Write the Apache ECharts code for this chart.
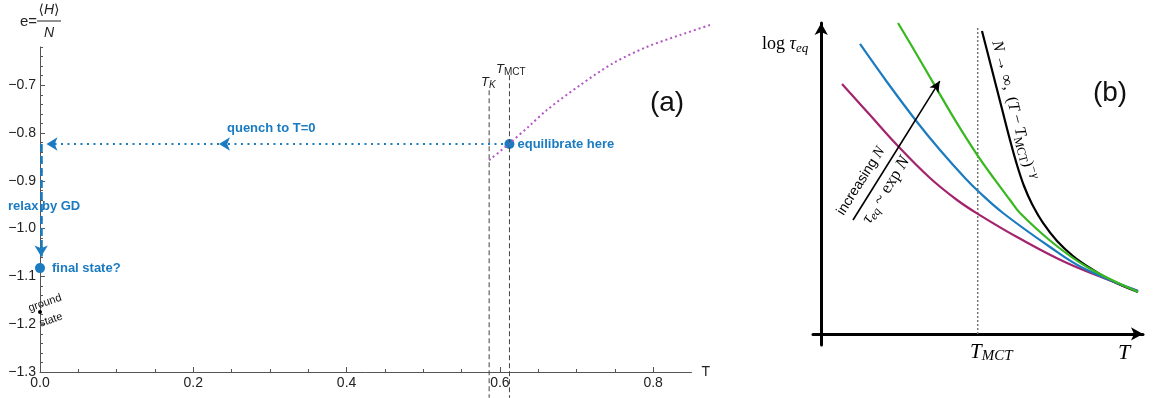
<!DOCTYPE html>
<html>
<head>
<meta charset="utf-8">
<script src="https://cdn.jsdelivr.net/npm/echarts@6/dist/echarts.min.js"></script>
<style>
  html, body { margin: 0; padding: 0; background: #fff; }
  #chart { width: 1160px; height: 398px; }
</style>
</head>
<body>
<div id="chart"></div>
<script>
// ---------- panel (a): energy per particle e = <H>/N versus temperature T ----------
const tMajorTicks = [0, 0.2, 0.4, 0.6, 0.8];
const tMinorTicks = [0.05, 0.1, 0.15, 0.25, 0.3, 0.35, 0.45, 0.5, 0.55, 0.65, 0.7, 0.75];
const eMajorTicks = [-1.3, -1.2, -1.1, -1.0, -0.9, -0.8, -0.7];
const eMinorTicks = [-1.28, -1.26, -1.24, -1.22, -1.18, -1.16, -1.14, -1.12,
                     -1.08, -1.06, -1.04, -1.02, -0.98, -0.96, -0.94, -0.92,
                     -0.88, -0.86, -0.84, -0.82, -0.78, -0.76, -0.74, -0.72,
                     -0.68, -0.66, -0.64, -0.62];

// equilibrium energy above the Kauzmann temperature
const eqCurveT = [0.586, 0.6123, 0.6393, 0.6611, 0.7045, 0.7476, 0.7915, 0.835, 0.8741];
const eqCurveE = [-0.857, -0.822, -0.784, -0.752, -0.700, -0.654, -0.620, -0.595, -0.574];

// characteristic temperatures and the extent of their marker lines
const T_K = 0.586;
const T_MCT = 0.6125;
const markerLow = -1.354;
const markerTopK = -0.7105;
const markerTopMCT = -0.679;

// protocol: equilibrate at T_MCT, quench to T = 0, relax by gradient descent
const equilibratePoint = [0.6125, -0.823];
const quenchMidArrowT = 0.2335;
const quenchEndT = 0.0085;
const relaxT = 0.0015;
const relaxArrowE = -1.0585;
const finalStatePoint = [0, -1.0826];
const groundStatePoint = [0, -1.1746];

// ---------- panel (b): schematic log tau_eq versus T ----------
const bTmct = 4.76;
const bTmctTop = 9.653;
const curveInfT = [4.890, 5.195, 5.499, 5.742, 5.955, 6.168, 6.411, 6.746, 7.172, 7.658, 8.175, 8.844, 9.635];
const curveInfL = [9.558, 8.328, 7.097, 6.119, 5.330, 4.667, 4.099, 3.500, 2.932, 2.458, 2.080, 1.669, 1.322];
const curveSmallT = [0.633, 1.484, 2.305, 3.309, 4.130, 4.769, 5.955, 7.476, 8.997, 9.635];
const curveSmallL = [7.886, 6.907, 5.961, 4.919, 4.225, 3.784, 3.058, 2.237, 1.606, 1.354];
const curveMidT = [1.180, 2.001, 2.914, 3.613, 4.373, 4.769, 5.529, 6.958, 7.962, 9.635];
const curveMidL = [9.148, 7.949, 6.687, 5.803, 4.920, 4.509, 3.815, 2.742, 2.079, 1.354];
const curveLargeT = [2.336, 2.914, 3.491, 4.100, 4.739, 5.286, 5.742, 6.046, 7.050, 8.084, 9.635];
const curveLargeL = [9.811, 8.801, 7.772, 6.699, 5.658, 4.857, 4.225, 3.815, 2.868, 2.111, 1.322];
const increasingArrowFrom = [0.967, 3.594];
const increasingArrowTo = [3.605, 7.977];

const SANS = '"Liberation Sans", Arial, Helvetica, sans-serif';
const SERIF = '"Liberation Serif", "Times New Roman", Times, serif';
const BLUE = '#1b7bc0';
const AXIS = '#555';
const INK = '#222';

const zip = (xs, ys) => xs.map((x, i) => [x, ys[i]]);
const fmtE = v => (v < 0 ? '\u2212' : '') + Math.abs(v).toFixed(1);

function text(x, y, str, style, rotation) {
  return {
    type: 'text', x: x, y: y, rotation: rotation || 0, silent: true, z: 100,
    style: Object.assign({
      text: str, fill: INK, fontFamily: SANS, fontSize: 13,
      align: 'left', verticalAlign: 'middle',
      textAlign: 'left', textVerticalAlign: 'middle'
    }, style)
  };
}
function centered(style) {
  return Object.assign({ align: 'center', textAlign: 'center' }, style);
}

const chart = echarts.init(document.getElementById('chart'), null, { renderer: 'canvas' });

const arrowLine = (from, to, color, width, type, size) => ({
  silent: true,
  symbol: ['none', 'arrow'],
  symbolSize: size,
  label: { show: false },
  emphasis: { disabled: true },
  lineStyle: { color: color, width: width, type: type, opacity: 1 },
  data: [[{ coord: from }, { coord: to }]]
});

const hiddenAxis = {
  show: false, axisLine: { show: false, onZero: false }, axisTick: { show: false },
  axisLabel: { show: false }, splitLine: { show: false }
};

const option = {
  animation: false,
  backgroundColor: '#fff',
  grid: [
    { left: 40, top: 47, width: 651.5, height: 325, containLabel: false },
    { left: 813, top: 23, width: 330, height: 322, containLabel: false },
    // same scale as the first grid, slightly wider so the curve can run past the axis end
    { left: 40, top: 47, width: 689.8, height: 325, containLabel: false }
  ],
  xAxis: [
    {
      gridIndex: 0, type: 'value', min: 0, max: 0.85, position: 'bottom',
      axisLine: { onZero: false, lineStyle: { color: AXIS, width: 1 } },
      axisTick: { inside: true, length: 5, customValues: tMajorTicks, lineStyle: { color: AXIS } },
      axisLabel: { customValues: tMajorTicks, formatter: v => v.toFixed(1), fontSize: 14,
                   fontFamily: SANS, color: INK, margin: 4 },
      splitLine: { show: false },
      name: 'T', nameLocation: 'end', nameGap: 10,
      nameTextStyle: { fontSize: 14, fontFamily: SANS, color: INK }
    },
    {
      gridIndex: 0, type: 'value', min: 0, max: 0.85, position: 'bottom',
      axisLine: { show: false, onZero: false },
      axisTick: { inside: true, length: 3, customValues: tMinorTicks, lineStyle: { color: AXIS } },
      axisLabel: { show: false }, splitLine: { show: false }
    },
    {
      gridIndex: 1, type: 'value', min: -0.25, max: 9.787,
      axisLine: { onZero: true, symbol: ['none', 'arrow'], symbolSize: [10, 12],
                  lineStyle: { color: '#000', width: 3 } },
      axisTick: { show: false }, axisLabel: { show: false }, splitLine: { show: false }
    },
    Object.assign({ gridIndex: 2, type: 'value', min: 0, max: 0.9 }, hiddenAxis)
  ],
  yAxis: [
    {
      gridIndex: 0, type: 'value', min: -1.3, max: -0.62, position: 'left',
      axisLine: { onZero: false, lineStyle: { color: AXIS, width: 1 } },
      axisTick: { inside: true, length: 5, customValues: eMajorTicks, lineStyle: { color: AXIS } },
      axisLabel: { customValues: eMajorTicks, formatter: fmtE, fontSize: 14,
                   fontFamily: SANS, color: INK, margin: 4 },
      splitLine: { show: false }
    },
    {
      gridIndex: 0, type: 'value', min: -1.3, max: -0.62, position: 'left',
      axisLine: { show: false, onZero: false },
      axisTick: { inside: true, length: 3, customValues: eMinorTicks, lineStyle: { color: AXIS } },
      axisLabel: { show: false }, splitLine: { show: false }
    },
    {
      gridIndex: 1, type: 'value', min: -0.35, max: 9.81,
      axisLine: { onZero: true, symbol: ['none', 'arrow'], symbolSize: [10, 12],
                  lineStyle: { color: '#000', width: 3 } },
      axisTick: { show: false }, axisLabel: { show: false }, splitLine: { show: false }
    },
    Object.assign({ gridIndex: 2, type: 'value', min: -1.3, max: -0.62 }, hiddenAxis)
  ],
  series: [
    // ---- panel (a) ----
    {
      type: 'line', xAxisIndex: 0, yAxisIndex: 0, clip: false, silent: true,
      data: [[T_K, markerTopK], [T_K, markerLow]], symbol: 'none',
      lineStyle: { color: '#444', width: 1, type: [5, 3] }
    },
    {
      type: 'line', xAxisIndex: 0, yAxisIndex: 0, clip: false, silent: true,
      data: [[T_MCT, markerTopMCT], [T_MCT, markerLow]], symbol: 'none',
      lineStyle: { color: '#444', width: 1, type: [5, 3] }
    },
    {
      type: 'line', xAxisIndex: 3, yAxisIndex: 3, clip: false, silent: true,
      data: zip(eqCurveT, eqCurveE), smooth: 0.3, symbol: 'none',
      lineStyle: { color: '#b355c6', width: 2, type: [2, 3] }
    },
    {
      type: 'line', xAxisIndex: 0, yAxisIndex: 0, clip: false, data: [],
      markLine: arrowLine(equilibratePoint, [quenchMidArrowT, equilibratePoint[1]], BLUE, 2, [2, 4.5], [10, 11])
    },
    {
      type: 'line', xAxisIndex: 0, yAxisIndex: 0, clip: false, data: [],
      markLine: arrowLine([quenchMidArrowT, equilibratePoint[1]], [quenchEndT, equilibratePoint[1]], BLUE, 2, [2, 4.5], [10, 11])
    },
    {
      type: 'line', xAxisIndex: 0, yAxisIndex: 0, clip: false, data: [],
      markLine: arrowLine([relaxT, equilibratePoint[1]], [relaxT, relaxArrowE], BLUE, 2.5, [8, 4], [10, 11])
    },
    {
      type: 'scatter', xAxisIndex: 0, yAxisIndex: 0, clip: false, silent: true,
      symbol: 'circle', symbolSize: 4, itemStyle: { color: '#000', opacity: 1 },
      data: [groundStatePoint]
    },
    {
      type: 'scatter', xAxisIndex: 0, yAxisIndex: 0, clip: false, silent: true,
      symbol: 'circle', symbolSize: 10, itemStyle: { color: BLUE, opacity: 1 },
      label: { show: true, position: 'right', color: BLUE, fontWeight: 'bold',
               fontSize: 13, fontFamily: SANS, opacity: 1 },
      data: [
        { value: equilibratePoint, label: { formatter: 'equilibrate here', distance: 3 } },
        { value: finalStatePoint, label: { formatter: 'final state?', distance: 7 } }
      ]
    },
    // ---- panel (b) ----
    {
      type: 'line', xAxisIndex: 2, yAxisIndex: 2, clip: false, silent: true,
      data: [[bTmct, 0], [bTmct, bTmctTop]], symbol: 'none',
      lineStyle: { color: '#777', width: 1.5, type: [2, 2] }
    },
    {
      type: 'line', xAxisIndex: 2, yAxisIndex: 2, clip: false, silent: true,
      data: zip(curveInfT, curveInfL), smooth: 0.35, symbol: 'none',
      lineStyle: { color: '#000', width: 2.2 }
    },
    {
      type: 'line', xAxisIndex: 2, yAxisIndex: 2, clip: false, silent: true,
      data: zip(curveSmallT, curveSmallL), smooth: 0.4, symbol: 'none',
      lineStyle: { color: '#a3236c', width: 2.2 }
    },
    {
      type: 'line', xAxisIndex: 2, yAxisIndex: 2, clip: false, silent: true,
      data: zip(curveMidT, curveMidL), smooth: 0.4, symbol: 'none',
      lineStyle: { color: BLUE, width: 2.2 }
    },
    {
      type: 'line', xAxisIndex: 2, yAxisIndex: 2, clip: false, silent: true,
      data: zip(curveLargeT, curveLargeL), smooth: 0.4, symbol: 'none',
      lineStyle: { color: '#38b81e', width: 2.2 }
    },
    {
      type: 'line', xAxisIndex: 2, yAxisIndex: 2, clip: false, data: [],
      markLine: arrowLine(increasingArrowFrom, increasingArrowTo, '#000', 1.6, 'solid', [8, 11])
    }
  ],
  graphic: [
    // y-axis title of panel (a): e = <H>/N
    text(37, 22, 'e=', { fontSize: 15, align: 'right', textAlign: 'right' }),
    text(49, 10, '{n|\u27E8}{it|H}{n|\u27E9}', centered({
      rich: {
        n: { fontSize: 14, fontFamily: '"DejaVu Sans", ' + SANS, fill: INK, color: INK },
        it: { fontSize: 14, fontFamily: SANS, fontStyle: 'italic', fill: INK, color: INK }
      }
    })),
    { type: 'line', silent: true, z: 100, shape: { x1: 37, y1: 21, x2: 61, y2: 21 },
      style: { stroke: INK, lineWidth: 1 } },
    text(49, 33, 'N', centered({ fontSize: 14, fontStyle: 'italic' })),

    // protocol labels
    text(227, 128, 'quench to T=0', { fontSize: 13, fontWeight: 'bold', fill: BLUE }),
    text(8, 206, 'relax by GD', { fontSize: 13, fontWeight: 'bold', fill: BLUE }),
    text(45, 303, 'ground', centered({ fontSize: 11, fill: '#111' }), 0.33),
    text(51, 320, 'state', centered({ fontSize: 11, fill: '#111' }), 0.33),

    // temperature markers
    text(481, 82, '{t|T}{s|K}', {
      rich: {
        t: { fontSize: 13, fontFamily: SANS, fontStyle: 'italic', fill: INK, color: INK, lineHeight: 16 },
        s: { fontSize: 10, fontFamily: SANS, fontStyle: 'italic', fill: INK, color: INK, lineHeight: 10, verticalAlign: 'bottom' }
      }
    }),
    text(496, 69, '{t|T}{s|MCT}', {
      rich: {
        t: { fontSize: 13, fontFamily: SANS, fontStyle: 'italic', fill: INK, color: INK, lineHeight: 16 },
        s: { fontSize: 10, fontFamily: SANS, fill: INK, color: INK, lineHeight: 12, verticalAlign: 'bottom' }
      }
    }),
    text(667, 103, '(a)', centered({ fontSize: 28, fill: '#111' })),

    // panel (b) labels
    text(762, 44, '{r|log }{it|\u03C4}{sub|eq}', {
      rich: {
        r: { fontSize: 18, fontFamily: SERIF, fill: '#000', color: '#000', lineHeight: 22 },
        it: { fontSize: 18, fontFamily: SERIF, fontStyle: 'italic', fill: '#000', color: '#000', lineHeight: 22 },
        sub: { fontSize: 13, fontFamily: SERIF, fontStyle: 'italic', fill: '#000', color: '#000', lineHeight: 12, verticalAlign: 'bottom' }
      }
    }),
    text(970, 352, '{it|T}{sub|MCT}', {
      rich: {
        it: { fontSize: 21, fontFamily: SERIF, fontStyle: 'italic', fill: '#000', color: '#000', lineHeight: 24 },
        sub: { fontSize: 15, fontFamily: SERIF, fontStyle: 'italic', fill: '#000', color: '#000', lineHeight: 16, verticalAlign: 'bottom' }
      }
    }),
    text(1118, 353, 'T', { fontSize: 22, fontFamily: SERIF, fontStyle: 'italic', fill: '#000' }),
    text(1110, 93, '(b)', centered({ fontSize: 28, fill: '#111' })),
    text(1014, 110, '{it|N}{r| \u2192 \u221E,  (}{it|T}{r| \u2212 }{it|T}{sub|MCT}{r|)}{sup|\u2212\u03B3}', centered({
      rich: {
        r: { fontSize: 16, fontFamily: SERIF, fill: '#000', color: '#000', lineHeight: 20 },
        it: { fontSize: 16, fontFamily: SERIF, fontStyle: 'italic', fill: '#000', color: '#000', lineHeight: 20 },
        sub: { fontSize: 12, fontFamily: SERIF, fill: '#000', color: '#000', lineHeight: 12, verticalAlign: 'bottom' },
        sup: { fontSize: 12, fontFamily: SERIF, fontStyle: 'italic', fill: '#000', color: '#000', lineHeight: 12, verticalAlign: 'top' }
      }
    }), -1.32),
    text(861, 181, '{s|increasing }{it|N}', centered({
      rich: {
        s: { fontSize: 14, fontFamily: SANS, fill: '#000', color: '#000', lineHeight: 16 },
        it: { fontSize: 15, fontFamily: SERIF, fontStyle: 'italic', fill: '#000', color: '#000', lineHeight: 16 }
      }
    }), 1.01),
    text(886, 190, '{it|\u03C4}{sub|eq}{r| ~ exp }{it|N}', centered({
      rich: {
        r: { fontSize: 17, fontFamily: SERIF, fill: '#000', color: '#000', lineHeight: 20 },
        it: { fontSize: 17, fontFamily: SERIF, fontStyle: 'italic', fill: '#000', color: '#000', lineHeight: 20 },
        sub: { fontSize: 12, fontFamily: SERIF, fontStyle: 'italic', fill: '#000', color: '#000', lineHeight: 12, verticalAlign: 'bottom' }
      }
    }), 1.01)
  ]
};

chart.setOption(option);
</script>
</body>
</html>
